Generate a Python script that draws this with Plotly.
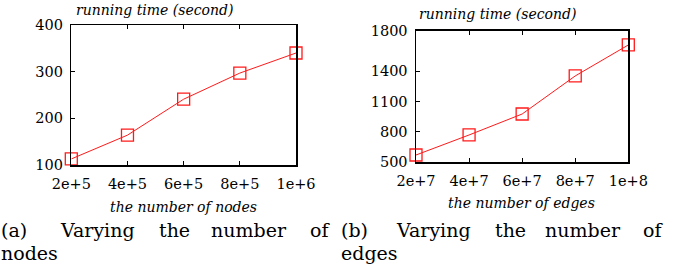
import plotly.graph_objects as go

nodes_x = [2e5, 4e5, 6e5, 8e5, 1e6]
nodes_time = [113, 164, 241, 297, 340]
nodes_ticks = ["2e+5", "4e+5", "6e+5", "8e+5", "1e+6"]

edges_x = [2e7, 4e7, 6e7, 8e7, 1e8]
edges_time = [572, 770, 977, 1353, 1659]
edges_ticks = ["2e+7", "4e+7", "6e+7", "8e+7", "1e+8"]
edges_yticks = [500, 800, 1100, 1400, 1800]

W, H = 683, 269
FONT = "DejaVu Serif"
RED = "#ff1a1a"

def px(x):
    return x / W

def py(y):
    return 1 - y / H

fig = go.Figure()
fig.add_trace(go.Scatter(x=nodes_x, y=nodes_time, mode="lines+markers",
                         line=dict(color=RED, width=1),
                         marker=dict(symbol="square-open", size=12, color=RED, line=dict(width=1.3)),
                         xaxis="x", yaxis="y", cliponaxis=False, showlegend=False))
fig.add_trace(go.Scatter(x=edges_x, y=edges_time, mode="lines+markers",
                         line=dict(color=RED, width=1),
                         marker=dict(symbol="square-open", size=12, color=RED, line=dict(width=1.3)),
                         xaxis="x2", yaxis="y2", cliponaxis=False, showlegend=False))

axis_common = dict(showgrid=False, zeroline=False, showline=True, linecolor="black", linewidth=1.5,
                   ticks="inside", ticklen=4, tickcolor="black", automargin=False,
                   tickfont=dict(family=FONT, size=14.5, color="black"))

fig.update_layout(
    width=W, height=H, margin=dict(l=0, r=0, t=0, b=0, autoexpand=False),
    paper_bgcolor="white", plot_bgcolor="white",
    font=dict(family=FONT),
    xaxis=dict(domain=[px(71.3), px(296)], range=[2e5, 1e6], tickvals=nodes_x, ticktext=nodes_ticks,
               mirror="ticks", anchor="y", ticklabelstandoff=5, **axis_common),
    yaxis=dict(domain=[py(165), py(25)], range=[100, 400], tickvals=[100, 200, 300, 400],
               mirror=True, anchor="x", ticklabelstandoff=4, **axis_common),
    xaxis2=dict(domain=[px(416), px(628.3)], range=[2e7, 1e8], tickvals=edges_x, ticktext=edges_ticks,
                mirror="ticks", anchor="y2", ticklabelstandoff=5, **axis_common),
    yaxis2=dict(domain=[py(162.3), py(30.7)], range=[500, 1800], tickvals=edges_yticks,
                mirror=True, anchor="x2", ticklabelstandoff=4, **axis_common),
)

ann = []
def text(x, y, s, size, italic=False, xanchor="center"):
    ann.append(dict(x=px(x), y=py(y), xref="paper", yref="paper", text=s, showarrow=False,
                    xanchor=xanchor, yanchor="middle", borderpad=0,
                    font=dict(family=FONT, size=size, color="black",
                              style="italic" if italic else "normal")))

text(154, 10, "running time (second)", 14, italic=True)
text(497, 14, "running time (second)", 14, italic=True)
text(183.5, 207, "the number of nodes", 14, italic=True)
text(521, 203, "the number of edges", 14, italic=True)

cap_a = [("(a)", 0), ("Varying", 59), ("the", 158), ("number", 210), ("of", 309)]
for w, x in cap_a:
    text(x, 230, w, 19, xanchor="left")
text(0, 253, "nodes", 19, xanchor="left")

cap_b = [("(b)", 340), ("Varying", 395), ("the", 494), ("number", 544), ("of", 642)]
for w, x in cap_b:
    text(x, 230, w, 19, xanchor="left")
text(340, 253, "edges", 19, xanchor="left")

fig.update_layout(annotations=ann)
fig.write_html("out.html", config={"displayModeBar": False, "staticPlot": True},
               post_script="document.body.style.margin='0';document.body.style.padding='0';")
